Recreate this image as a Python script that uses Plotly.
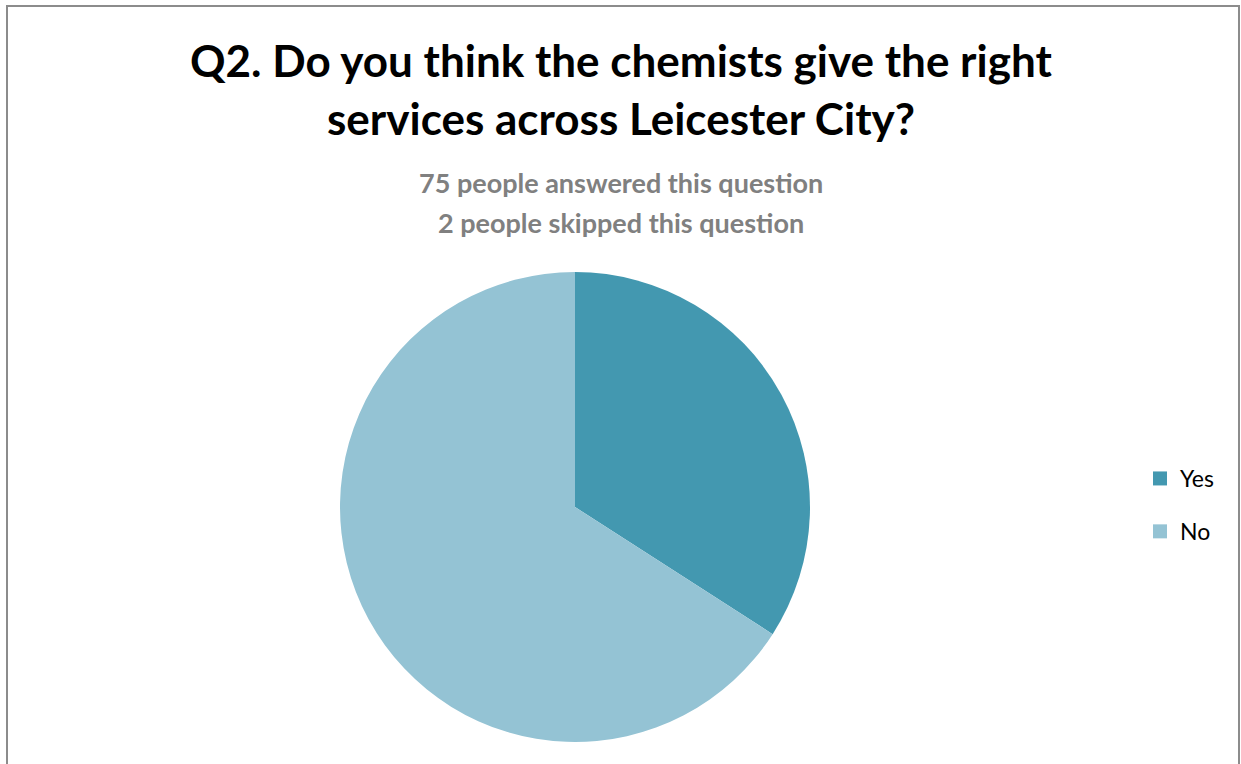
import plotly.graph_objects as go

# Survey responses (share of respondents, %)
answers = ["Yes", "No"]
shares = [34.1, 65.9]
slice_colors = ["#4398b0", "#94c3d4"]

title_lines = ["Q2. Do you think the chemists give the right",
               "services across Leicester City?"]
sub_lines = ["75 people answered this question",
             "2 people skipped this question"]

W, H = 1241, 764

fig = go.Figure(go.Pie(
    labels=answers,
    values=shares,
    sort=False,
    direction="clockwise",
    rotation=0,
    textinfo="none",
    hoverinfo="label+percent",
    showlegend=False,
    marker=dict(colors=slice_colors, line=dict(width=0)),
    domain=dict(x=[340 / W, 810 / W], y=[1 - 742 / H, 1 - 272 / H]),
))

# Legend entries as square swatches, one group per answer for wider spacing
for name, color in zip(answers, slice_colors):
    fig.add_trace(go.Scatter(
        x=[None], y=[None], mode="markers", name=name, legendgroup=name,
        marker=dict(symbol="square", size=14, color=color),
        hoverinfo="skip",
    ))

annotations = []
for text, yc in zip(title_lines, [60, 118]):
    annotations.append(dict(text=f"<b>{text}</b>", x=0.5, y=1 - yc / H,
                            xref="paper", yref="paper", showarrow=False,
                            xanchor="center", yanchor="middle",
                            font=dict(family="Lato", size=44, color="#000000")))
for text, yc in zip(sub_lines, [182, 222]):
    annotations.append(dict(text=f"<b>{text}</b>", x=0.5, y=1 - yc / H,
                            xref="paper", yref="paper", showarrow=False,
                            xanchor="center", yanchor="middle",
                            font=dict(family="Lato", size=27, color="#808080")))

fig.update_layout(
    width=W, height=H,
    margin=dict(l=0, r=0, t=0, b=0),
    paper_bgcolor="white",
    plot_bgcolor="white",
    xaxis=dict(visible=False),
    yaxis=dict(visible=False),
    annotations=annotations,
    showlegend=True,
    legend=dict(x=1140 / W, y=1 - 505 / H, xanchor="left", yanchor="middle",
                font=dict(family="Lato", size=23, color="#000000"),
                tracegroupgap=20, itemwidth=30),
    shapes=[dict(type="rect", xref="paper", yref="paper",
                 x0=7 / W, x1=1239 / W, y0=-0.05, y1=1 - 6 / H,
                 line=dict(color="#8c8c8c", width=2), fillcolor="rgba(0,0,0,0)")],
)

fig.write_html("out.html")
